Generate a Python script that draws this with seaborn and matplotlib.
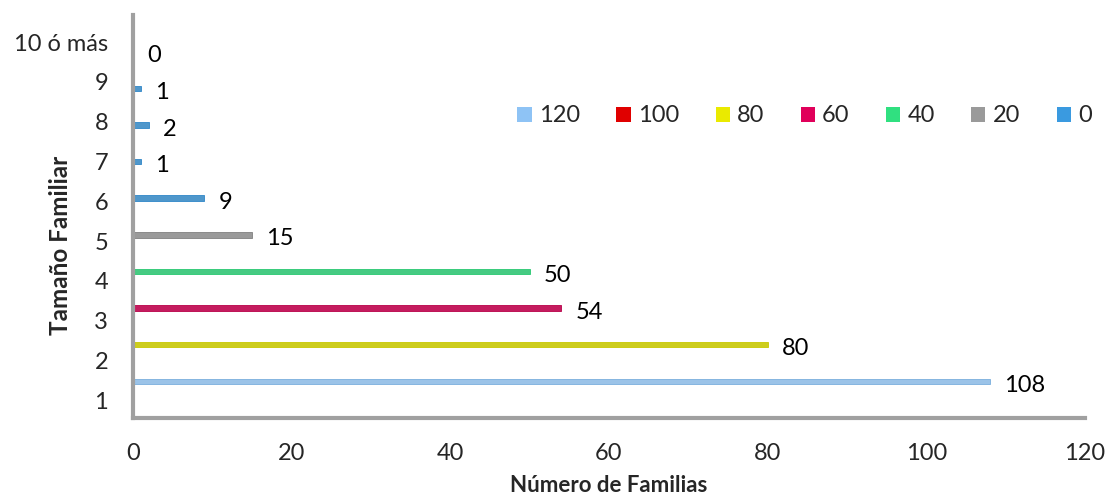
import matplotlib.pyplot as plt
import seaborn as sns
import pandas as pd
from matplotlib.patches import Patch

# data
tamano = ['1', '2', '3', '4', '5', '6', '7', '8', '9', '10 ó más']
familias = [108, 80, 54, 50, 15, 9, 1, 2, 1, 0]
grupo = ['120', '80', '60', '40', '20', '0', '0', '0', '0', '0']

legend_order = ['120', '100', '80', '60', '40', '20', '0']
colores = {'120': '#8ec3f5', '100': '#e00000', '80': '#eaea00', '60': '#e0005a',
           '40': '#30e080', '20': '#9a9a9a', '0': '#3a9ae0'}
bordes = {'120': '#7aaedd', '100': '#b00000', '80': '#c8c800', '60': '#b80048',
          '40': '#28c870', '20': '#808080', '0': '#2f86c8'}

df = pd.DataFrame({'Tamaño': tamano, 'Familias': familias, 'Grupo': grupo})

sns.set_style('white')
plt.rcParams['font.family'] = ['Lato', 'DejaVu Sans']

fig = plt.figure(figsize=(11.06, 4.95), dpi=100)
ax = fig.add_axes([133 / 1106, 77 / 495, (1085 - 133) / 1106, (418 - 15) / 495])

sns.barplot(data=df, x='Familias', y='Tamaño', hue='Grupo', order=tamano,
            hue_order=legend_order, palette=colores, dodge=False, width=0.15,
            orient='h', legend=False, ax=ax)

# darker outline per bar, matched by group
for bar, g in zip(sorted(ax.patches, key=lambda p: p.get_y()), grupo):
    bar.set_edgecolor(bordes[g])
    bar.set_linewidth(0.6)

for i, v in enumerate(familias):
    ax.annotate(str(v), (v, i), xytext=(10, -3), textcoords='offset points',
                ha='left', va='center', fontsize=17, color='black')

ax.set_xlim(0, 120)
ax.set_ylim(-1, 10)
ax.set_xticks(range(0, 121, 20))
# category labels sit on a slightly wider spacing than the bars (3D perspective)
ax.set_yticks([-0.52 + 1.087 * i for i in range(len(tamano))])
ax.set_yticklabels(tamano)
ax.tick_params(axis='x', length=0, pad=18, labelsize=17)
ax.tick_params(axis='y', length=0, pad=18, labelsize=17)

for s in ['top', 'right']:
    ax.spines[s].set_visible(False)
for s in ['left', 'bottom']:
    ax.spines[s].set_color('#a0a0a0')
    ax.spines[s].set_linewidth(3)

ax.set_xlabel('Número de Familias', fontsize=16, fontweight='bold', labelpad=8)
ax.set_ylabel('Tamaño Familiar', fontsize=17.5, fontweight='bold')
ax.yaxis.set_label_coords((72 - 133) / 952, (418 - 245) / 403)

handles = [Patch(facecolor=colores[k], edgecolor='none', label=k) for k in legend_order]
fig.legend(handles=handles, loc='center left', bbox_to_anchor=(508 / 1106, 1 - 116 / 495),
           ncol=7, frameon=False, fontsize=17, handlelength=0.6, handleheight=0.6,
           handletextpad=0.3, columnspacing=1.55, borderaxespad=0)

fig.savefig('out.png', dpi=100)
